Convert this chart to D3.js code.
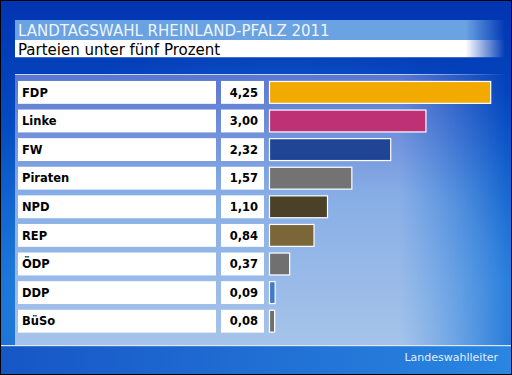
<!DOCTYPE html>
<html>
<head>
<meta charset="utf-8">
<script src="https://cdn.jsdelivr.net/npm/d3@7"></script>
<style>
  html, body { margin: 0; padding: 0; background: #000; }
  svg { display: block; }
</style>
</head>
<body>
<div id="chart"></div>
<script>
const parties = ['FDP', 'Linke', 'FW', 'Piraten', 'NPD', 'REP', 'ÖDP', 'DDP', 'BüSo'];
const shares = [4.25, 3.00, 2.32, 1.57, 1.10, 0.84, 0.37, 0.09, 0.08];
const partyColors = ['#f2aa00', '#be3175', '#1f4594', '#737373', '#4a4128', '#7a6638', '#707070', '#4178c8', '#6e6e6e'];
const titleText = 'LANDTAGSWAHL RHEINLAND-PFALZ 2011';
const subtitleText = 'Parteien unter fünf Prozent';
const sourceText = 'Landeswahlleiter';

const W = 512, H = 375;
const font = '"DejaVu Sans", Verdana, sans-serif';
const fmt = v => v.toFixed(2).replace('.', ',');

const svg = d3.select('#chart').append('svg')
    .attr('width', W).attr('height', H)
    .attr('viewBox', `0 0 ${W} ${H}`);

const defs = svg.append('defs');

// Background gradients
const bg = defs.append('linearGradient').attr('id', 'bg')
    .attr('x1', 0).attr('y1', 0).attr('x2', 0).attr('y2', 1);
[['0%', '#0234b2'], ['35%', '#044cc2'], ['75%', '#0a70d6'], ['100%', '#0c6ad2']]
    .forEach(([o, c]) => bg.append('stop').attr('offset', o).attr('stop-color', c));

const glow = defs.append('radialGradient').attr('id', 'glow')
    .attr('cx', 0.55).attr('cy', 0.85).attr('r', 0.75);
glow.append('stop').attr('offset', '0%').attr('stop-color', '#8ec0f0').attr('stop-opacity', 0.9);
glow.append('stop').attr('offset', '60%').attr('stop-color', '#4a90e4').attr('stop-opacity', 0.5);
glow.append('stop').attr('offset', '100%').attr('stop-color', '#2a70d8').attr('stop-opacity', 0);

const panelGrad = defs.append('linearGradient').attr('id', 'panel')
    .attr('x1', 0).attr('y1', 0).attr('x2', 0).attr('y2', 1);
[['0%', '#5b76d0'], ['45%', '#88aee6'], ['100%', '#a6c4ea']]
    .forEach(([o, c]) => panelGrad.append('stop').attr('offset', o).attr('stop-color', c));

const fadeRight = defs.append('linearGradient').attr('id', 'fadeRight')
    .attr('x1', 0).attr('y1', 0).attr('x2', 1).attr('y2', 0);
fadeRight.append('stop').attr('offset', '0%').attr('stop-color', '#fff');
fadeRight.append('stop').attr('offset', '78%').attr('stop-color', '#fff');
fadeRight.append('stop').attr('offset', '100%').attr('stop-color', '#fff').attr('stop-opacity', 0);
defs.append('mask').attr('id', 'panelMask').attr('maskContentUnits', 'objectBoundingBox')
    .append('rect').attr('width', 1).attr('height', 1).attr('fill', 'url(#fadeRight)');

const barFade = defs.append('linearGradient').attr('id', 'barFade')
    .attr('x1', 0).attr('y1', 0).attr('x2', 1).attr('y2', 0);
barFade.append('stop').attr('offset', '0%').attr('stop-color', '#fff');
barFade.append('stop').attr('offset', '92%').attr('stop-color', '#fff');
barFade.append('stop').attr('offset', '100%').attr('stop-color', '#fff').attr('stop-opacity', 0);
defs.append('mask').attr('id', 'barMask').attr('maskContentUnits', 'objectBoundingBox')
    .append('rect').attr('width', 1).attr('height', 1).attr('fill', 'url(#barFade)');

const bottomGrad = defs.append('linearGradient').attr('id', 'bottom')
    .attr('x1', 0).attr('y1', 0).attr('x2', 1).attr('y2', 0);
bottomGrad.append('stop').attr('offset', '0%').attr('stop-color', '#1656c6');
bottomGrad.append('stop').attr('offset', '100%').attr('stop-color', '#2a86e0');

// Frame + background
svg.append('rect').attr('width', W).attr('height', H).attr('fill', '#000');
svg.append('rect').attr('x', 1).attr('y', 1).attr('width', W - 2).attr('height', H - 2).attr('fill', 'url(#bg)');
svg.append('rect').attr('x', 1).attr('y', 1).attr('width', W - 2).attr('height', H - 2).attr('fill', 'url(#glow)');

// Panel
svg.append('rect').attr('x', 15).attr('y', 74).attr('width', 492).attr('height', 271)
    .attr('fill', 'url(#panel)').attr('mask', 'url(#panelMask)');
svg.append('rect').attr('x', 15).attr('y', 74).attr('width', 492).attr('height', 1.2)
    .attr('fill', '#c4d4f4').attr('mask', 'url(#panelMask)');
svg.append('rect').attr('x', 1).attr('y', 346).attr('width', W - 2).attr('height', H - 347)
    .attr('fill', 'url(#bottom)');
svg.append('rect').attr('x', 1).attr('y', 345).attr('width', W - 2).attr('height', 1.2)
    .attr('fill', '#dce8fa');

// Title bars
svg.append('rect').attr('x', 15).attr('y', 20).attr('width', 490).attr('height', 20)
    .attr('fill', '#6aa2e2').attr('mask', 'url(#barMask)');
svg.append('rect').attr('x', 15).attr('y', 40).attr('width', 490).attr('height', 17.5)
    .attr('fill', '#ffffff').attr('mask', 'url(#barMask)');
svg.append('text').attr('x', 18).attr('y', 36)
    .attr('font-family', font).attr('font-size', 15).attr('fill', '#eef4fc').text(titleText);
svg.append('text').attr('x', 18).attr('y', 55)
    .attr('font-family', font).attr('font-size', 15).attr('fill', '#000').text(subtitleText);

// Scales
const y = d3.scaleBand().domain(parties).range([78.1, 335.5]).paddingInner(0.2).paddingOuter(0.1);
const x = d3.scaleLinear().domain([0, 4.25]).range([270, 490.2]);

const rows = svg.append('g').selectAll('g').data(parties).join('g')
    .attr('transform', d => `translate(0,${y(d)})`);

rows.append('rect').attr('x', 18).attr('width', 198).attr('height', y.bandwidth()).attr('fill', '#fff');
rows.append('rect').attr('x', 221).attr('width', 43).attr('height', y.bandwidth()).attr('fill', '#fff');

rows.append('text').attr('x', 22).attr('y', y.bandwidth() / 2 + 4.2)
    .attr('font-family', font).attr('font-weight', 'bold').attr('font-size', 11.5)
    .attr('fill', '#000').text(d => d);
rows.append('text').attr('x', 258).attr('y', y.bandwidth() / 2 + 4.2)
    .attr('text-anchor', 'end')
    .attr('font-family', font).attr('font-weight', 'bold').attr('font-size', 11.5)
    .attr('fill', '#000').text((d, i) => fmt(shares[i]));

rows.append('rect')
    .attr('x', x(0) - 0.5).attr('y', 0.5)
    .attr('width', (d, i) => x(shares[i]) - x(0) + 1)
    .attr('height', y.bandwidth() - 1)
    .attr('fill', (d, i) => partyColors[i])
    .attr('stroke', '#fff').attr('stroke-width', 1.2);

// Source
svg.append('text').attr('x', 498).attr('y', 361).attr('text-anchor', 'end')
    .attr('font-family', font).attr('font-size', 11).attr('fill', '#e4eefa').text(sourceText);
</script>
</body>
</html>
